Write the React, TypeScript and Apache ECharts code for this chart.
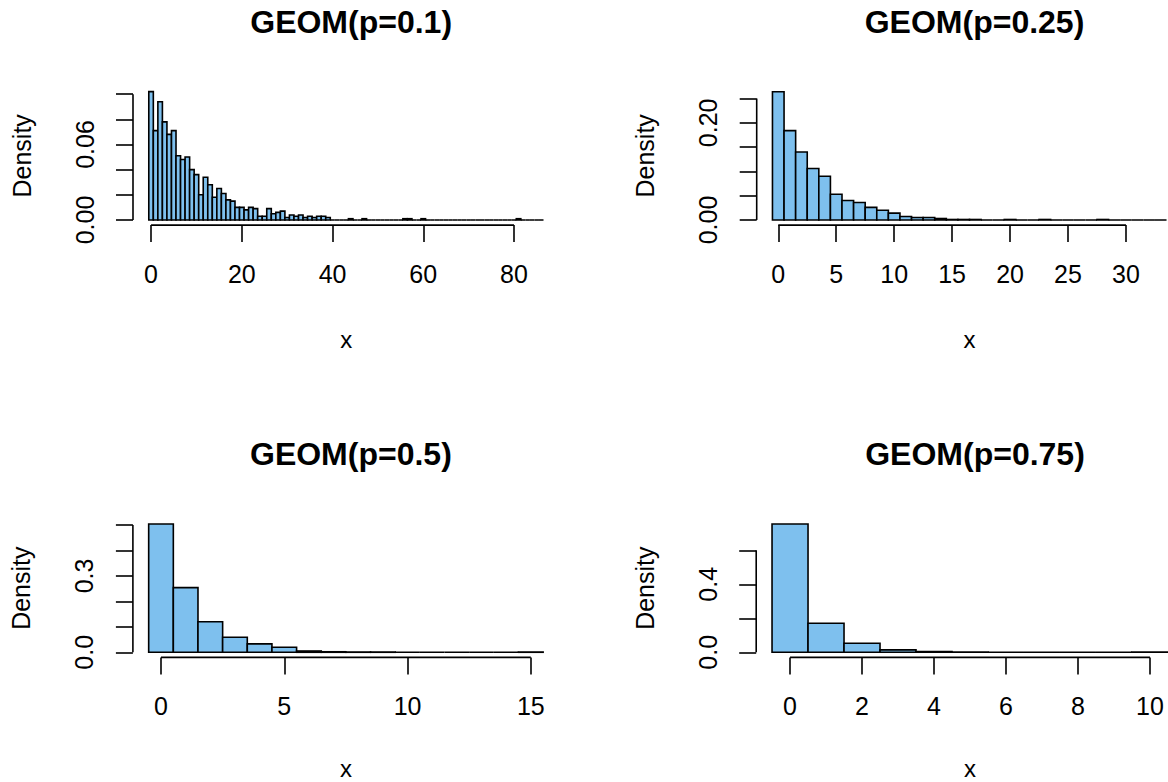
import React, { useEffect, useRef } from "react";
import * as echarts from "echarts";

// ---- data (counts per 1000 draws, unit-width bins starting at 0) ----
const N = 1000;
const countsP010 = [
  102, 71, 94, 78, 68, 71, 51, 48, 50, 40, 36, 20, 34, 28, 18, 25, 21, 16, 15, 10,
  10, 8, 10, 9, 3, 3, 9, 5, 6, 7, 2, 4, 3, 4, 2, 3, 2, 3, 3, 2,
  0, 0, 0, 0, 1, 0, 0, 1, 0, 0, 0, 0, 0, 0, 0, 0, 1, 1, 0, 0,
  1, 0, 0, 0, 0, 0, 0, 0, 0, 0, 0, 0, 0, 0, 0, 0, 0, 0, 0, 0,
  0, 1, 0, 0, 0, 0, 0,
];
const countsP025 = [
  264, 184, 140, 106, 90, 53, 40, 36, 26, 20, 14, 7, 5, 5, 3, 1, 1, 1, 0, 0,
  1, 0, 0, 1, 0, 0, 0, 0, 1, 0, 0, 0, 0, 0,
];
const countsP050 = [504, 254, 120, 59, 33, 20, 5, 2, 1, 1, 0, 0, 0, 0, 0, 1];
const countsP075 = [755, 171, 53, 14, 4, 2, 0, 0, 0, 0, 1];

const titles = ["GEOM(p=0.1)", "GEOM(p=0.25)", "GEOM(p=0.5)", "GEOM(p=0.75)"];
const xTicks = [
  [0, 20, 40, 60, 80],
  [0, 5, 10, 15, 20, 25, 30],
  [0, 5, 10, 15],
  [0, 2, 4, 6, 8, 10],
];
const yTicks = [
  [0, 0.02, 0.04, 0.06, 0.08, 0.1],
  [0, 0.05, 0.1, 0.15, 0.2, 0.25],
  [0, 0.1, 0.2, 0.3, 0.4, 0.5],
  [0, 0.2, 0.4, 0.6],
];
const yLabelValues = [
  [0, 0.06],
  [0, 0.2],
  [0, 0.3],
  [0, 0.4],
];
const yDecimals = [2, 2, 1, 1];
const allCounts = [countsP010, countsP025, countsP050, countsP075];

// ---- layout (pixel plot regions) ----
const grids = [
  { left: 133, top: 86.5, width: 426.3, height: 138.6 },
  { left: 756.7, top: 86.6, width: 425.6, height: 138.5 },
  { left: 132.9, top: 518.9, width: 426, height: 138.5 },
  { left: 756.2, top: 518.9, width: 427.6, height: 138.5 },
];
const xNameGaps = [106, 106, 103.5, 103.5];

const FONT = "'Liberation Sans', Arial, Helvetica, sans-serif";
const FILL = "#7EC0EE";

export default function App() {
  const ref = useRef<HTMLDivElement>(null);
  useEffect(() => {
    if (!ref.current) return;
    const chart = echarts.init(ref.current, null, { renderer: "svg" });

    const xAxes: any[] = [];
    const yAxes: any[] = [];
    const series: any[] = [];
    const titleOpts: any[] = [];

    allCounts.forEach((counts, i) => {
      const dens = counts.map((c) => c / N);
      const data = dens.map((d, k) => [k, d]);
      const lo = -0.5;
      const hi = counts.length - 0.5;
      const span = hi - lo;
      const xmin = lo - 0.04 * span;
      const xmax = hi + 0.04 * span;
      const ymaxData = Math.max(...dens);
      const ymin = -0.04 * ymaxData;
      const ymax = 1.04 * ymaxData;
      const g = grids[i];
      const dec = yDecimals[i];

      titleOpts.push({
        text: titles[i],
        left: g.left + g.width / 2,
        top: g.top - 85.5,
        textAlign: "center",
        textStyle: { fontFamily: FONT, fontWeight: "bold", fontSize: 32, color: "#000" },
      });

      xAxes.push({
        type: "value",
        gridIndex: i,
        min: xmin,
        max: xmax,
        axisLine: { show: false, onZero: false },
        splitLine: { show: false },
        axisTick: {
          show: true,
          customValues: xTicks[i],
          length: 17,
          lineStyle: { color: "#000", width: 1.6 },
        },
        axisLabel: {
          show: true,
          customValues: xTicks[i],
          margin: 36,
          fontSize: 25,
          fontFamily: FONT,
          color: "#000",
          formatter: (v: number) => String(Math.round(v)),
        },
        name: "x",
        nameLocation: "middle",
        nameGap: xNameGaps[i],
        nameTextStyle: { fontFamily: FONT, fontSize: 24, lineHeight: 16, color: "#000" },
      });

      yAxes.push({
        type: "value",
        gridIndex: i,
        min: ymin,
        max: ymax,
        axisLine: { show: false, onZero: false },
        splitLine: { show: false },
        axisTick: {
          show: true,
          customValues: yTicks[i],
          length: 17,
          lineStyle: { color: "#000", width: 1.6 },
        },
        axisLabel: {
          show: true,
          customValues: yLabelValues[i],
          rotate: 90,
          margin: 36,
          fontSize: 25,
          fontFamily: FONT,
          color: "#000",
          formatter: (v: number) => v.toFixed(dec),
        },
        name: "Density",
        nameLocation: "middle",
        nameGap: 99,
        nameTextStyle: { fontFamily: FONT, fontSize: 25, color: "#000" },
      });

      series.push({
        type: "custom",
        xAxisIndex: i,
        yAxisIndex: i,
        clip: false,
        silent: true,
        data,
        renderItem: (_p: any, api: any) => {
          const x = api.value(0);
          const y = api.value(1);
          const p1 = api.coord([x - 0.5, y]);
          const p2 = api.coord([x + 0.5, 0]);
          return {
            type: "rect",
            shape: { x: p1[0], y: p1[1], width: p2[0] - p1[0], height: p2[1] - p1[1] },
            style: { fill: FILL, stroke: "#000", lineWidth: 1.6 },
          };
        },
      });

      const xt = xTicks[i];
      const yt = yTicks[i];
      series.push({
        type: "line",
        xAxisIndex: i,
        yAxisIndex: i,
        data: [
          [xt[0], ymin],
          [xt[xt.length - 1], ymin],
        ],
        symbol: "none",
        clip: false,
        silent: true,
        lineStyle: { color: "#000", width: 1.6 },
      });
      series.push({
        type: "line",
        xAxisIndex: i,
        yAxisIndex: i,
        data: [
          [xmin, yt[0]],
          [xmin, yt[yt.length - 1]],
        ],
        symbol: "none",
        clip: false,
        silent: true,
        lineStyle: { color: "#000", width: 1.6 },
      });
    });

    chart.setOption({
      animation: false,
      backgroundColor: "#fff",
      title: titleOpts,
      grid: grids.map((g) => ({ ...g, containLabel: false, outerBoundsMode: "none" })),
      xAxis: xAxes,
      yAxis: yAxes,
      series,
    });
    return () => chart.dispose();
  }, []);

  return (
    <div
      ref={ref}
      style={{ position: "fixed", left: 0, top: 0, width: 1168, height: 782, background: "#fff" }}
    />
  );
}
